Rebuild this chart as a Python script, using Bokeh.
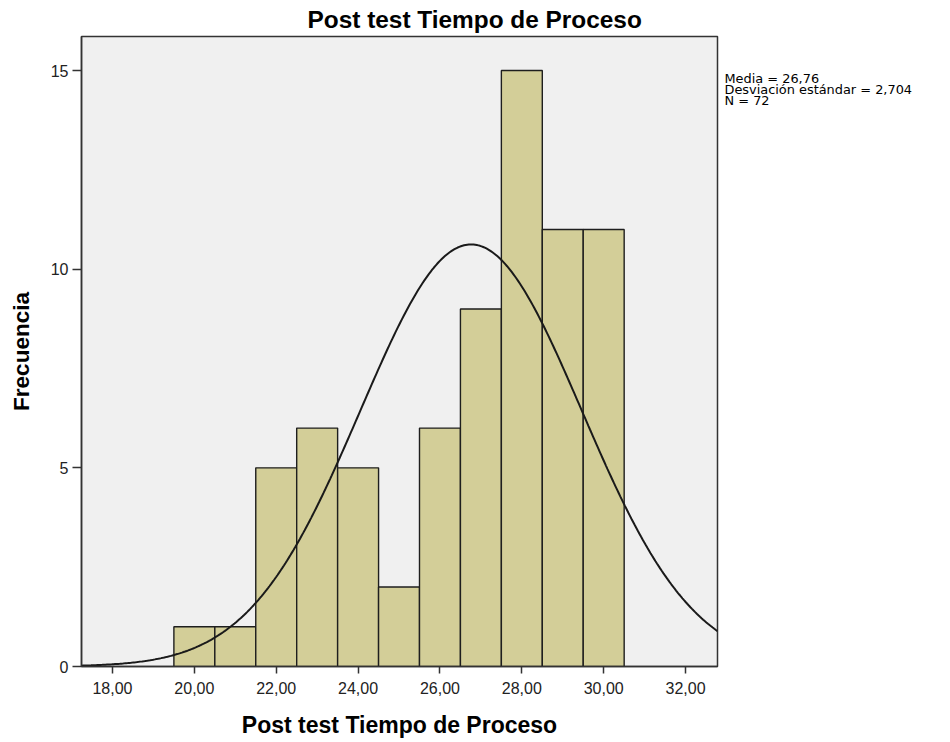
import numpy as np
from bokeh.plotting import figure
from bokeh.layouts import row
from bokeh.models import FixedTicker, Range1d
from bokeh.core.properties import value
from bokeh.embed import file_html
from bokeh.resources import INLINE

# ---- data ----
bin_centers = [20, 21, 22, 23, 24, 25, 26, 27, 28, 29, 30]
counts = [1, 1, 5, 6, 5, 2, 6, 9, 15, 11, 11]
bin_width = 1.0
MEAN = 26.76
SD = 2.704
N = 72
x_ticks = [18, 20, 22, 24, 26, 28, 30, 32]
x_tick_labels = ["18,00", "20,00", "22,00", "24,00", "26,00", "28,00", "30,00", "32,00"]
y_ticks = [0, 5, 10, 15]
stats_lines = ["Media = 26,76", "Desviación estándar = 2,704", "N = 72"]
title_text = "Post test Tiempo de Proceso"
x_label = "Post test Tiempo de Proceso"
y_label = "Frecuencia"

X0, X1 = 17.243, 32.78
Y0, Y1 = 0.0, 15.857

FONT = "Liberation Sans"

p = figure(width=723, height=740, output_backend="svg", toolbar_location=None,
           x_range=Range1d(X0, X1), y_range=Range1d(Y0, Y1),
           frame_width=636, frame_height=630,
           min_border_left=81, min_border_right=6, min_border_top=35, min_border_bottom=75)
p.background_fill_color = "#f0f0f0"
p.border_fill_color = "white"
p.outline_line_color = "#333333"
p.outline_line_width = 1.5
p.grid.visible = False

left = [c - bin_width / 2 for c in bin_centers]
right = [c + bin_width / 2 for c in bin_centers]
p.quad(left=left, right=right, bottom=0, top=counts,
       fill_color="#d3ce98", line_color="#1e1e1e", line_width=1.4)

xs = np.linspace(X0, X1, 400)
ys = N * bin_width / (SD * np.sqrt(2 * np.pi)) * np.exp(-0.5 * ((xs - MEAN) / SD) ** 2)
p.line(xs, ys, line_color="#1a1a1a", line_width=2)

# title (left aligned with an offset so that it is centred on the whole image)
p.title.text = title_text
p.title.align = "left"
p.title.offset = 226
p.title.text_font = FONT
p.title.text_font_size = "24.4px"
p.title.text_font_style = "bold"
p.title.text_color = "black"
p.title.standoff = 7

# axes
p.xaxis.ticker = FixedTicker(ticks=x_ticks)
p.xaxis.major_label_overrides = {t: l for t, l in zip(x_ticks, x_tick_labels)}
p.yaxis.ticker = FixedTicker(ticks=y_ticks)
for ax in (p.xaxis, p.yaxis):
    ax.minor_tick_line_color = None
    ax.major_tick_in = 0
    ax.major_tick_line_color = "#333333"
    ax.major_tick_line_width = 1.5
    ax.axis_line_color = "#333333"
    ax.axis_line_width = 1.5
    ax.major_label_text_font = FONT
    ax.major_label_text_font_size = "16px"
    ax.major_label_text_color = "#222222"
    ax.axis_label_text_font = FONT
    ax.axis_label_text_font_style = "bold"
    ax.axis_label_text_color = "black"
p.xaxis.axis_label_text_font_size = "23px"
p.yaxis.axis_label_text_font_size = "22.5px"
p.xaxis.major_tick_out = 7
p.yaxis.major_tick_out = 9
p.xaxis.major_label_standoff = 8
p.yaxis.major_label_standoff = 4
p.xaxis.axis_label = x_label
p.yaxis.axis_label = y_label
p.xaxis.axis_label_standoff = 15
p.yaxis.axis_label_standoff = 14

# statistics text panel on the right (its frame is aligned with the main frame)
SW, SH = 219, 630
s = figure(width=SW, height=SH, output_backend="svg", toolbar_location=None,
           x_range=Range1d(0, SW), y_range=Range1d(SH, 0),
           frame_width=SW, frame_height=SH,
           min_border=0)
s.axis.visible = False
s.grid.visible = False
s.outline_line_color = None
s.background_fill_color = "white"
s.border_fill_color = "white"
line_step = 10.8
s.text(x=[1] * len(stats_lines), y=[42 + line_step * i for i in range(len(stats_lines))],
       text=stats_lines, text_align="left", text_baseline="middle",
       text_font=value("DejaVu Sans"), text_font_size="12.9px", text_color="black")

layout = row(p, s, spacing=0)
open("out.html", "w").write(file_html(layout, INLINE))
